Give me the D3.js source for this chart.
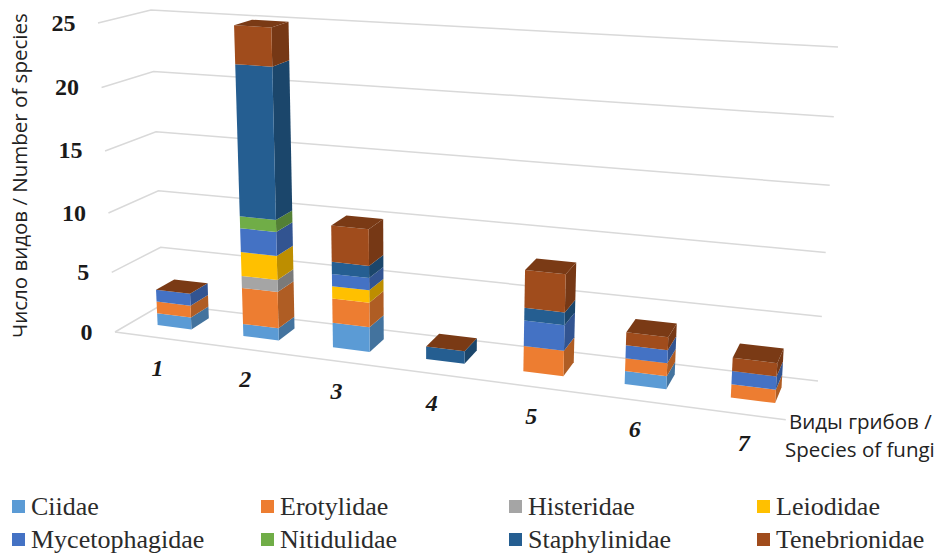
<!DOCTYPE html>
<html>
<head>
<meta charset="utf-8">
<script src="https://cdn.jsdelivr.net/npm/d3@7"></script>
<style>
    html, body { margin: 0; padding: 0; background: #fff; }
    svg { display: block; }
</style>
</head>
<body>
<div id="chartContainer"></div>
<script>
// stacked 3D column chart, drawn as polygons through a small projection
const categories = ["1", "2", "3", "4", "5", "6", "7"];
const seriesNames = ["Ciidae", "Erotylidae", "Histeridae", "Leiodidae", "Mycetophagidae", "Nitidulidae", "Staphylinidae", "Tenebrionidae"];
const seriesColors = ["#5b9bd5", "#ed7d31", "#a5a5a5", "#ffc000", "#4472c4", "#70ad47", "#255e91", "#a04c1c"];

const ciidae = [1, 1, 2, 0, 0, 1, 0];
const erotylidae = [1, 3, 2, 0, 2, 1, 1];
const histeridae = [0, 1, 0, 0, 0, 0, 0];
const leiodidae = [0, 2, 1, 0, 0, 0, 0];
const mycetophagidae = [1, 2, 1, 0, 2, 1, 1];
const nitidulidae = [0, 1, 0, 0, 0, 0, 0];
const staphylinidae = [0, 12, 1, 1, 1, 0, 0];
const tenebrionidae = [0, 3, 3, 0, 3, 1, 1];
const seriesValues = [ciidae, erotylidae, histeridae, leiodidae, mycetophagidae, nitidulidae, staphylinidae, tenebrionidae];

const valueTicks = [0, 5, 10, 15, 20, 25];

const width = 937;
const height = 553;
const GRID = "#d9d9d9";
const SERIF = "'Liberation Serif', serif";
const SANS = "'Open Sans', sans-serif";

// corners of the plot box in the picture: [back/front][left/right][floor/top]
const box = {
    backLeft: [[163, 304], [151, 10]],
    backRight: [[818, 381], [838, 47]],
    frontLeft: [[115, 332], [98, 23]],
    frontRight: [[803, 422], [824, 68]]
};

// perspective: slots and value steps are not evenly spaced on screen
const slotScale = d3.scaleLinear()
    .domain([0, 1, 2, 3, 4, 5, 6, 7])
    .range([0, 0.125, 0.256, 0.392, 0.534, 0.682, 0.836, 1]);
const valueScale = d3.scaleLinear()
    .domain(valueTicks)
    .range([0, 0.193, 0.385, 0.586, 0.791, 1]);
const depthBack = 0.255;
const depthFront = 0.64;

function mix(a, b, k) {
    return [a[0] + (b[0] - a[0]) * k, a[1] + (b[1] - a[1]) * k];
}

// u along the categories, d back to front, t up the value axis
function project(u, d, t) {
    const back = mix(mix(box.backLeft[0], box.backRight[0], u), mix(box.backLeft[1], box.backRight[1], u), t);
    const front = mix(mix(box.frontLeft[0], box.frontRight[0], u), mix(box.frontLeft[1], box.frontRight[1], u), t);
    return mix(back, front, d);
}

const svg = d3.select("#chartContainer").append("svg")
    .attr("width", width)
    .attr("height", height)
    .style("background-color", "#fff");

// walls and floor
const line = d3.line();
const grid = svg.append("g").attr("fill", "none").attr("stroke", GRID).attr("stroke-width", 1.5);
valueTicks.forEach(v => {
    const t = valueScale(v);
    grid.append("path").attr("d", line([project(0, 1, t), project(0, 0, t), project(1, 0, t)]));
});
grid.append("path").attr("d", line([project(0, 1, 0), project(0.975, 1, 0)]));

// value tick labels
svg.append("g").selectAll("text")
    .data(valueTicks)
    .enter()
    .append("text")
    .attr("x", v => project(0, 1, valueScale(v))[0] - 22.5)
    .attr("y", v => project(0, 1, valueScale(v))[1] + 7.5)
    .attr("text-anchor", "end")
    .style("font-family", SERIF)
    .style("font-weight", "700")
    .style("font-size", "24px")
    .style("fill", "#1a1a1a")
    .text(v => v);

// stacked columns
const rows = categories.map((c, i) => {
    const row = { category: c };
    seriesNames.forEach((s, j) => { row[s] = seriesValues[j][i]; });
    return row;
});
const stacked = d3.stack().keys(seriesNames)(rows);
const shade = (c, k) => {
    const rgb = d3.rgb(c);
    return d3.rgb(rgb.r * k, rgb.g * k, rgb.b * k).formatHex();
};
const poly = pts => pts.map(p => p.join(",")).join(" ");
const bars = svg.append("g");

categories.forEach((c, i) => {
    const uL = slotScale(i + 0.3);
    const uR = slotScale(i + 0.7);
    const col = bars.append("g").attr("class", "column");
    stacked.forEach((layer, s) => {
        const [y0, y1] = layer[i];
        if (y0 === y1) return;
        const t0 = valueScale(y0);
        const t1 = valueScale(y1);
        col.append("polygon")
            .attr("fill", shade(seriesColors[s], 0.74))
            .attr("points", poly([project(uR, depthFront, t0), project(uR, depthBack, t0), project(uR, depthBack, t1), project(uR, depthFront, t1)]));
        col.append("polygon")
            .attr("fill", seriesColors[s])
            .attr("points", poly([project(uL, depthFront, t0), project(uR, depthFront, t0), project(uR, depthFront, t1), project(uL, depthFront, t1)]));
    });
    // the top face always takes the last series colour
    const total = d3.sum(seriesValues, v => v[i]);
    const tTop = valueScale(total);
    col.append("polygon")
        .attr("fill", shade(seriesColors[seriesColors.length - 1], 0.76))
        .attr("points", poly([project(uL, depthFront, tTop), project(uR, depthFront, tTop), project(uR, depthBack, tTop), project(uL, depthBack, tTop)]));
});

// category labels
svg.append("g").selectAll("text")
    .data(categories)
    .enter()
    .append("text")
    .attr("x", (c, i) => project(slotScale(i + 0.5), 1, 0)[0] - 0.5 - i * 0.4)
    .attr("y", (c, i) => project(slotScale(i + 0.5), 1, 0)[1] + 38 - i * 0.3)
    .attr("text-anchor", "middle")
    .style("font-family", SERIF)
    .style("font-weight", "700")
    .style("font-style", "italic")
    .style("font-size", "24px")
    .style("fill", "#1a1a1a")
    .text(c => c);

// axis titles
svg.append("text")
    .attr("transform", "translate(27,338) rotate(-90)")
    .style("font-family", SANS)
    .style("font-size", "20.5px")
    .style("fill", "#222")
    .text("Число видов / Number of species");
const xTitle = svg.append("g")
    .style("font-family", SANS)
    .style("font-size", "20.5px")
    .style("fill", "#222");
xTitle.append("text").attr("x", 789).attr("y", 429).text("Виды грибов /");
xTitle.append("text").attr("x", 785).attr("y", 457).text("Species of fungi");

// legend, two rows of four
const legendX = [12, 261, 509, 757];
const legendY = [500, 533];
const legend = svg.append("g").selectAll("g")
    .data(seriesNames)
    .enter()
    .append("g")
    .attr("transform", (s, i) => `translate(${legendX[i % 4]},${legendY[Math.floor(i / 4)]})`);
legend.append("rect")
    .attr("width", 13)
    .attr("height", 13)
    .attr("fill", (s, i) => seriesColors[i]);
legend.append("text")
    .attr("x", 19)
    .attr("y", 15)
    .style("font-family", SERIF)
    .style("font-size", "26px")
    .style("fill", "#2b2b2b")
    .text(s => s);
</script>
</body>
</html>
